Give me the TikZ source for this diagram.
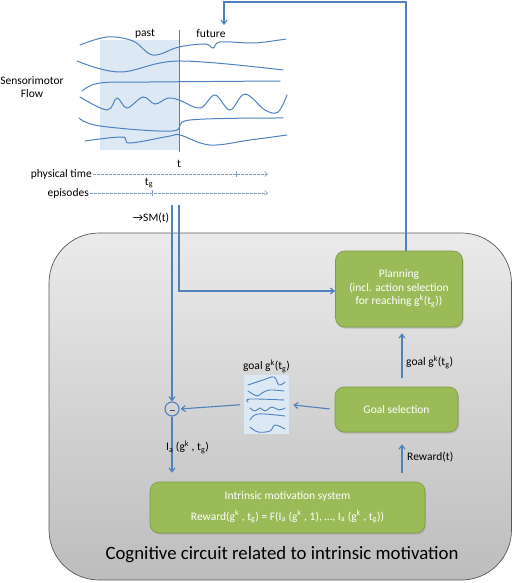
\documentclass[tikz,border=0pt]{standalone}
\usepackage{fontspec}
\setmainfont{Carlito}
\usetikzlibrary{arrows.meta,shadows}
\definecolor{lineblue}{HTML}{4F81BD}
\definecolor{dashblue}{HTML}{7F9CC4}
\definecolor{boxgreen}{HTML}{9BBB59}
\definecolor{boxgreenedge}{HTML}{7E9A45}
\definecolor{shadeblue}{HTML}{DDE8F5}
\definecolor{minusgray}{HTML}{3F4F65}
\begin{document}
\begin{tikzpicture}[x=1pt,y=-1pt,
  conn/.style={draw=lineblue,line width=1.1pt,-{Straight Barb[length=4pt,width=6pt]}},
  wave/.style={draw=lineblue,line width=1pt,line cap=round},
  miniwave/.style={draw=lineblue,line width=0.9pt,line cap=round},
  timeline/.style={draw=dashblue,line width=0.6pt,dash pattern=on 2.5pt off 1.5pt,-{Straight Barb[length=3pt,width=5pt]}},
  greenbox/.style={draw=boxgreenedge,fill=boxgreen,rounded corners=9pt,line width=0.6pt,
     drop shadow={shadow xshift=1pt,shadow yshift=-1.5pt,opacity=0.35},
     text=white,font=\fontsize{11.5}{13.5}\selectfont,align=center,inner sep=0pt},
  lbl/.style={font=\fontsize{11.5}{13.5}\selectfont,inner sep=1pt}]
\useasboundingbox (0,0) rectangle (513,583);
% big container
\path[draw=black!65,line width=0.7pt,top color=black!8,bottom color=black!26,rounded corners=50pt]
  (49,233) rectangle (511.5,580);
\node[font=\fontsize{18.8}{22}\selectfont] (title) at (282,555) {Cognitive circuit related to intrinsic motivation};
% sensorimotor flow
\fill[shadeblue] (100,40) rectangle (179,150);
\coordinate (nowtop) at (179,30);
\coordinate (nowbot) at (179,152);
\draw[lineblue,line width=0.8pt] (nowtop) -- (nowbot);
\node[lbl] (past) at (145,34) {past};
\node[lbl] (future) at (211,34) {future};
\node[lbl,align=center] (smflow) at (32,87) {Sensorimotor\\Flow};
\node[lbl] (tlabel) at (179,164) {t};
\draw[wave] plot[smooth,tension=0.6] coordinates {(80,45) (107,37) (133,41) (153,55) (179,47) (205,44) (213,48) (220,42) (250,43) (265,42) (286,39)};
\draw[wave] plot[smooth,tension=0.6] coordinates {(77,61) (120,72) (179,61) (283,70)};
\draw[wave] plot[smooth,tension=0.6] coordinates {(82,91) (100,83) (150,82) (280,81)};
\draw[wave] plot[smooth,tension=0.6] coordinates {(80,97) (107,110) (117,98) (127,108) (143,97) (155,104) (168,98) (179,100) (200,108) (215,95) (230,110) (245,94) (265,110) (278,112) (287,95)};
\draw[wave] plot[smooth,tension=0.6] coordinates {(79,118) (100,126) (172,131) (190,120) (283,118)};
\draw[wave] plot[smooth,tension=0.6] coordinates {(85,141) (122,137) (130,143) (170,136) (180,135) (210,145) (250,140) (287,135)};
% time lines
\node[lbl,anchor=east] (ptime) at (93,174) {physical time};
\coordinate (ptend) at (268,174);
\draw[timeline] (ptime.east) -- (ptend);
\draw[dashblue,line width=0.6pt] (236,171) -- (236,177);
\node[lbl,anchor=east] (episodes) at (90,193) {episodes};
\coordinate (epend) at (268,193);
\draw[timeline] (episodes.east) -- (epend);
\draw[dashblue,line width=0.6pt] (152,190) -- (152,196);
\node[lbl] (tg) at (149,183) {t\textsubscript{g}};
\node[lbl] (smt) at (151,218) {→SM(t)};
% green boxes
\node[greenbox,minimum width=127pt,minimum height=76pt] (plan) at (399,289)
  {Planning\\(incl. action selection\\for reaching g\textsuperscript{k}(t\textsubscript{g}))};
\node[greenbox,minimum width=123pt,minimum height=45pt] (gsel) at (396.5,409.5) {Goal selection};
\node[greenbox,minimum width=275pt,minimum height=51pt] (ims) at (287.5,507.5)
  {Intrinsic motivation system\\[7pt]Reward(g\textsuperscript{k} , t\textsubscript{g}) = F(I\textsubscript{a} (g\textsuperscript{k} , 1), …, I\textsubscript{a} (g\textsuperscript{k} , t\textsubscript{g}))};
% goal image
\node[fill=shadeblue,minimum width=45pt,minimum height=59pt,inner sep=0pt] (gimg) at (266.5,404.5) {};
\draw[miniwave] plot[smooth,tension=0.6] coordinates {(248,385) (263,380) (274,377) (279,385) (285,382)};
\draw[miniwave] plot[smooth,tension=0.6] coordinates {(248,391) (257,396) (262,393) (270,390) (284,391)};
\draw[miniwave] plot[smooth,tension=0.6] coordinates {(248,402) (250,399) (284,400)};
\draw[miniwave] plot[smooth,tension=0.6] coordinates {(250,408) (255,411) (260,408) (265,411) (272,407) (279,410) (285,408)};
\draw[miniwave] plot[smooth,tension=0.6] coordinates {(250,420) (258,414) (285,416)};
\draw[miniwave] plot[smooth,tension=0.6] coordinates {(250,427) (258,432) (270,431) (275,425) (285,429)};
\node[lbl] (glabel) at (266.5,366) {goal g\textsuperscript{k}(t\textsubscript{g})};
% comparator
\node[circle,draw=lineblue,line width=1.1pt,minimum size=14pt,inner sep=0pt] (cmp) at (172,409) {};
\draw[minusgray,line width=1pt] ([xshift=-2.5pt,yshift=-1pt]cmp.center) -- ([xshift=2.5pt,yshift=-1pt]cmp.center);
% connectors
\coordinate (smA) at (172,205);
\coordinate (smB) at (179,205);
\coordinate (smBcorner) at (179,291);
\draw[conn] (smA) -- (cmp.north);
\draw[conn] (smB) -- (smBcorner) -- (smBcorner -| plan.west);
\draw[conn,shorten >=9pt] (cmp.south) -- (cmp.south |- ims.north);
\node[lbl,anchor=east] (ialabel) at (210,447) {I\textsubscript{a} (g\textsuperscript{k} , t\textsubscript{g})};
\draw[conn,shorten <=5pt,shorten >=4pt] (gsel.west) -- (gimg.east);
\draw[conn,shorten <=4pt,shorten >=1pt] (gimg.west) -- (cmp.east);
\coordinate (gselTop) at (402,378);
\draw[conn,shorten >=6pt] (gselTop) -- (gselTop |- plan.south);
\node[lbl,anchor=west] (goalup) at (405,362) {goal g\textsuperscript{k}(t\textsubscript{g})};
\coordinate (rewBot) at (402,473);
\draw[conn,shorten >=12pt] (rewBot) -- (rewBot |- gsel.south);
\node[lbl,anchor=west] (rewlabel) at (406,457) {Reward(t)};
\coordinate (pTop) at (406,2);
\coordinate (fut) at (224,2);
\coordinate (futEnd) at (224,25);
\draw[conn] (pTop |- plan.north) -- (pTop) -- (fut) -- (futEnd);
\end{tikzpicture}
\end{document}
